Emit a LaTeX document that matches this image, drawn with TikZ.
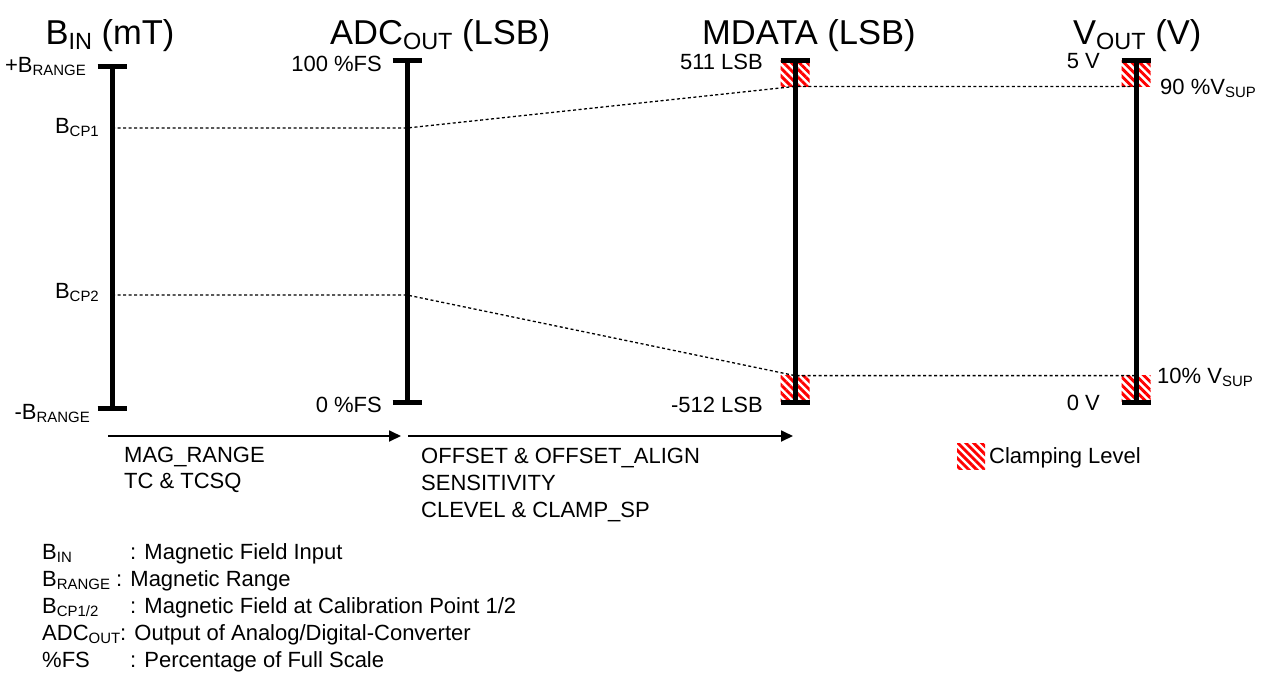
\documentclass[tikz,border=0pt]{standalone}
\usepackage{fontspec}
\setmainfont{Liberation Sans}
\usepackage{graphicx}
\usetikzlibrary{arrows.meta, positioning, calc, patterns.meta}

% word-style subscript
\newcommand{\lo}[1]{\raisebox{-0.15em}{\scalebox{0.68}{#1}}}

\tikzset{
  axisline/.style={line width=5pt},
  axtick/.style={line width=5pt},
  level/.style={line width=1.3pt, dash pattern=on 3pt off 2.5pt},
  clamp/.style={draw=none, fill=white, inner sep=0pt, minimum width=29pt, minimum height=26pt,
    postaction={pattern={Lines[angle=-45, distance=5.6pt, line width=2.9pt]}, pattern color=red}},
  flow/.style={-{Triangle[length=12pt, width=11pt]}, line width=1.8pt},
  heading/.style={font=\fontsize{34.5}{40}\selectfont, inner sep=0pt},
  lbl/.style={font=\fontsize{22}{26}\selectfont, inner sep=0pt},
}

\begin{document}
\begin{tikzpicture}[x=1pt, y=-1pt]
  \useasboundingbox (0,0) rectangle (1267,673);

  % scale ends
  \coordinate (bTop) at (112,66);   \coordinate (bBot) at (112,408);
  \coordinate (aTop) at (407,60);   \coordinate (aBot) at (407,402);
  \coordinate (mTop) at (795,60);   \coordinate (mBot) at (795,402);
  \coordinate (vTop) at (1136,60);  \coordinate (vBot) at (1136,402);

  % clamping boxes
  \node[clamp, anchor=north] (mHi) at (mTop) {};
  \node[clamp, anchor=south] (mLo) at (mBot) {};
  \node[clamp, anchor=north] (vHi) at (vTop) {};
  \node[clamp, anchor=south] (vLo) at (vBot) {};

  % calibration points
  \coordinate (cp1) at (112,128);  \coordinate (cp1a) at (407,128);
  \coordinate (cp2) at (112,295);  \coordinate (cp2a) at (407,295);
  \draw[level] (cp1) -- (cp1a) -- (mHi.south) -- (vHi.south);
  \draw[level] (cp2) -- (cp2a) -- (mLo.north) -- (vLo.north);

  % the four scales
  \foreach \s in {b, a, m, v} {
    \draw[axisline] (\s Top) -- (\s Bot);
    \draw[axtick] ([xshift=-14.5pt]\s Top) -- ([xshift=14.5pt]\s Top);
    \draw[axtick] ([xshift=-14.5pt]\s Bot) -- ([xshift=14.5pt]\s Bot);
  }

  % headings
  \node[heading, anchor=base] (hB) at (110,44) {B\lo{IN} (mT)};
  \node[heading, anchor=base west] (hA) at (330,44) {ADC\lo{OUT} (LSB)};
  \node[heading, anchor=base west] (hM) at (702,44) {MDATA (LSB)};
  \node[heading, anchor=base west] (hV) at (1073,44) {V\lo{OUT} (V)};

  % scale labels
  \node[lbl, anchor=base east] (bMax) at (86,72) {+B\lo{RANGE}};
  \node[lbl, anchor=base east] (bCp1) at (99,133) {B\lo{CP1}};
  \node[lbl, anchor=base east] (bCp2) at (99,298) {B\lo{CP2}};
  \node[lbl, anchor=base east] (bMin) at (90,419) {-B\lo{RANGE}};
  \node[lbl, anchor=base east] (aMax) at (382,71) {100 \%FS};
  \node[lbl, anchor=base east] (aMin) at (382,412) {0 \%FS};
  \node[lbl, anchor=base east] (mMax) at (763,69) {511 LSB};
  \node[lbl, anchor=base east] (mMin) at (763,412) {-512 LSB};
  \node[lbl, anchor=base east] (vMax) at (1100,68) {5 V};
  \node[lbl, anchor=base east] (vMin) at (1100,410) {0 V};
  \node[lbl, anchor=base west] (vHiPct) at (1160,94) {90 \%V\lo{SUP}};
  \node[lbl, anchor=base west] (vLoPct) at (1157,383) {10\% V\lo{SUP}};

  % processing steps
  \coordinate (f1s) at (108,436);  \coordinate (f1e) at (401,436);
  \coordinate (f2s) at (408,436);  \coordinate (f2e) at (793,436);
  \draw[flow] (f1s) -- (f1e);
  \draw[flow] (f2s) -- (f2e);
  \foreach \t [count=\i] in {MAG\_RANGE, TC \& TCSQ}
    \node[lbl, anchor=base west] (stepA\i) at (124,{462+26*(\i-1)}) {\t};
  \foreach \t [count=\i] in {OFFSET \& OFFSET\_ALIGN, SENSITIVITY, CLEVEL \& CLAMP\_SP}
    \node[lbl, anchor=base west] (stepB\i) at (421,{463+27*(\i-1)}) {\t};

  % clamping legend
  \node[clamp, anchor=north west, minimum width=28pt] (keyBox) at (957,443) {};
  \node[lbl, anchor=base west] (keyTxt) at (989,463) {Clamping Level};

  % abbreviations
  \node[lbl, anchor=base west] (abbr1) at (42,559) {B\lo{IN}};
  \node[lbl, anchor=base west] (abbr1t) at (130,559) {: Magnetic Field Input};
  \node[lbl, anchor=base west] (abbr2) at (42,586) {B\lo{RANGE} : Magnetic Range};
  \node[lbl, anchor=base west] (abbr3) at (42,613) {B\lo{CP1/2}};
  \node[lbl, anchor=base west] (abbr3t) at (130,613) {: Magnetic Field at Calibration Point 1/2};
  \node[lbl, anchor=base west] (abbr4) at (42,640) {ADC\lo{OUT}: Output of Analog/Digital-Converter};
  \node[lbl, anchor=base west] (abbr5) at (42,667) {\%FS};
  \node[lbl, anchor=base west] (abbr5t) at (130,667) {: Percentage of Full Scale};
\end{tikzpicture}
\end{document}
